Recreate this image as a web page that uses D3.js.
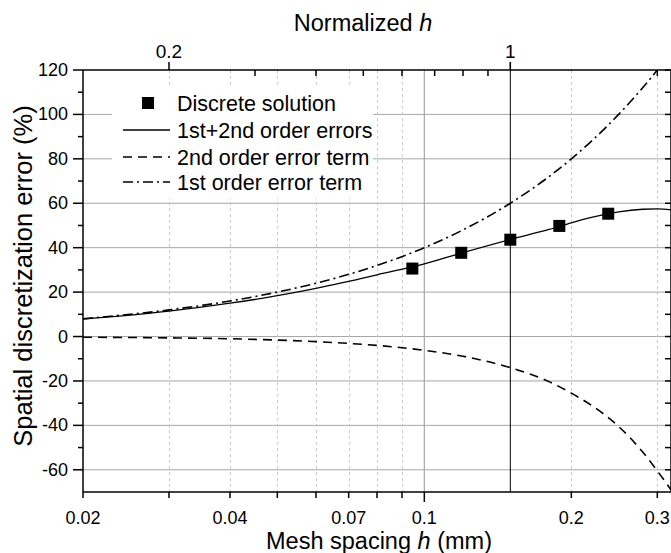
<!DOCTYPE html>
<html>
<head>
<meta charset="utf-8">
<script src="https://cdn.jsdelivr.net/npm/d3@7"></script>
<style>
  body { margin: 0; background: #fff; }
  text { font-family: "Liberation Sans", Arial, sans-serif; fill: #000; }
</style>
</head>
<body>
<div id="container"></div>
<script>
/* CONSTANTS AND GLOBALS */
const width = 671;
const height = 553;
const margin = { top: 70, right: 0, bottom: 61, left: 83 };
const hRef = 0.15; // mesh spacing used for "Normalized h" = 1

/* DATA */
const hValues = [0.02, 0.03, 0.04, 0.05, 0.06, 0.07, 0.08, 0.1, 0.12, 0.15, 0.18, 0.2, 0.22, 0.25, 0.28, 0.3, 0.32];
const combinedError = [7.8, 11.4, 15, 18.4, 21.7, 24.8, 27.8, 32.7, 37.8, 43.7, 48.2, 51.2, 53.6, 56.1, 57.3, 57.5, 57];
const secondOrder = [-0.3, -0.6, -1.0, -1.6, -2.3, -3.1, -4.0, -6.2, -8.9, -14, -20.3, -25.5, -31, -40.5, -52, -60.5, -69];
const firstOrder = [8, 12, 16, 20, 24, 28, 32, 40, 48, 60, 72, 80, 88, 100, 112, 120, 128];

const discreteH = [0.0945, 0.119, 0.15, 0.189, 0.238];
const discreteError = [30.6, 37.7, 43.6, 49.8, 55.3];

const bottomLabels = [0.02, 0.04, 0.07, 0.1, 0.2, 0.3];
const bottomMinor = [0.02, 0.03, 0.04, 0.05, 0.06, 0.07, 0.08, 0.09, 0.2, 0.3];
const bottomMajor = [0.1];
const dottedGrid = [0.03, 0.04, 0.05, 0.06, 0.07, 0.08, 0.09, 0.2, 0.3];

const topMajor = [0.2, 1];
const topMinor = [0.3, 0.4, 0.5, 0.6, 0.7, 0.8, 0.9, 2];

const yLabels = [120, 100, 80, 60, 40, 20, 0, -20, -40, -60];
const yMinor = [110, 90, 70, 50, 30, 10, -10, -30, -50];

const legendItems = ["Discrete solution", "1st+2nd order errors", "2nd order error term", "1st order error term"];

/* HTML ELEMENTS */
const svg = d3.select("#container")
  .append("svg")
  .attr("width", width)
  .attr("height", height);

/* SCALES */
const xScale = d3.scaleLog()
  .domain([0.02, 0.32])
  .range([margin.left, width - margin.right]);

const xNorm = d3.scaleLog()
  .domain([0.02 / hRef, 0.32 / hRef])
  .range([margin.left, width - margin.right]);

const yScale = d3.scaleLinear()
  .domain([-70, 120])
  .range([height - margin.bottom, margin.top]);

const x0 = margin.left, x1 = width - margin.right;
const y0 = yScale(120), y1 = yScale(-70);

/* GRID */
const grid = svg.append("g");
grid.selectAll(".hgrid")
  .data(yLabels.filter(d => d !== 120))
  .join("line")
  .attr("x1", x0).attr("x2", x1)
  .attr("y1", d => yScale(d)).attr("y2", d => yScale(d))
  .attr("stroke", "#a6a6a6").attr("stroke-width", 1);

grid.selectAll(".dgrid")
  .data(dottedGrid)
  .join("line")
  .attr("x1", d => Math.round(xScale(d)) + 0.5).attr("x2", d => Math.round(xScale(d)) + 0.5)
  .attr("y1", y0).attr("y2", y1)
  .attr("stroke", "#c8c8c8").attr("stroke-width", 1)
  .attr("stroke-dasharray", "3,3");

grid.append("line")
  .attr("x1", xScale(0.1)).attr("x2", xScale(0.1))
  .attr("y1", y0).attr("y2", y1)
  .attr("stroke", "#a6a6a6").attr("stroke-width", 1.2);

grid.append("line")
  .attr("x1", xNorm(1)).attr("x2", xNorm(1))
  .attr("y1", y0 - 8).attr("y2", y1)
  .attr("stroke", "#000").attr("stroke-width", 1);

/* LEGEND BACKGROUND (covers grid) */
svg.append("rect")
  .attr("x", 112).attr("y", 86)
  .attr("width", 261).attr("height", 112)
  .attr("fill", "#fff");

/* CURVES */
svg.append("clipPath").attr("id", "plot-clip")
  .append("rect")
  .attr("x", x0).attr("y", y0)
  .attr("width", x1 - x0).attr("height", y1 - y0);

const line = d3.line()
  .x(d => xScale(d[0]))
  .y(d => yScale(d[1]))
  .curve(d3.curveMonotoneX);

const curves = svg.append("g").attr("clip-path", "url(#plot-clip)");

curves.append("path")
  .datum(hValues.map((h, i) => [h, secondOrder[i]]))
  .attr("d", line)
  .attr("fill", "none").attr("stroke", "#000").attr("stroke-width", 1.6)
  .attr("stroke-dasharray", "9,6");

curves.append("path")
  .datum(hValues.map((h, i) => [h, firstOrder[i]]))
  .attr("d", line)
  .attr("fill", "none").attr("stroke", "#000").attr("stroke-width", 1.6)
  .attr("stroke-dasharray", "10,4,2,4");

curves.append("path")
  .datum(hValues.map((h, i) => [h, combinedError[i]]))
  .attr("d", line)
  .attr("fill", "none").attr("stroke", "#000").attr("stroke-width", 1.3);

// discrete solution squares
svg.selectAll(".pt")
  .data(discreteH.map((h, i) => [h, discreteError[i]]))
  .join("rect")
  .attr("x", d => xScale(d[0]) - 6)
  .attr("y", d => yScale(d[1]) - 6)
  .attr("width", 12).attr("height", 12)
  .attr("fill", "#000");

/* AXES FRAME */
const frame = svg.append("g").attr("stroke", "#000").attr("stroke-width", 1.5);
frame.append("line").attr("x1", x0).attr("x2", x1).attr("y1", y1).attr("y2", y1);
frame.append("line").attr("x1", x0).attr("x2", x1).attr("y1", y0).attr("y2", y0);
frame.append("line").attr("x1", x0).attr("x2", x0).attr("y1", y0).attr("y2", y1);
frame.append("line").attr("x1", x1).attr("x2", x1).attr("y1", y0).attr("y2", y1);

// bottom ticks
const ticks = svg.append("g").attr("stroke", "#000").attr("stroke-width", 1.5);
ticks.selectAll(".bmin").data(bottomMinor).join("line")
  .attr("x1", d => xScale(d)).attr("x2", d => xScale(d))
  .attr("y1", y1).attr("y2", y1 + 6);
ticks.selectAll(".bmaj").data(bottomMajor).join("line")
  .attr("x1", d => xScale(d)).attr("x2", d => xScale(d))
  .attr("y1", y1).attr("y2", y1 + 10);

// top ticks
ticks.selectAll(".tmin").data(topMinor).join("line")
  .attr("x1", d => xNorm(d)).attr("x2", d => xNorm(d))
  .attr("y1", y0).attr("y2", y0 + 6);
ticks.selectAll(".tmaj").data(topMajor).join("line")
  .attr("x1", d => xNorm(d)).attr("x2", d => xNorm(d))
  .attr("y1", y0).attr("y2", y0 - 8);

// left ticks
ticks.selectAll(".lmaj").data(yLabels).join("line")
  .attr("x1", x0 - 10).attr("x2", x0)
  .attr("y1", d => yScale(d)).attr("y2", d => yScale(d));
ticks.selectAll(".lmin").data(yMinor).join("line")
  .attr("x1", x0 - 5).attr("x2", x0)
  .attr("y1", d => yScale(d)).attr("y2", d => yScale(d));

// right ticks (inward)
ticks.selectAll(".rt").data(yLabels.concat(yMinor)).join("line")
  .attr("x1", x1 - 6).attr("x2", x1)
  .attr("y1", d => yScale(d)).attr("y2", d => yScale(d));

/* TICK LABELS */
svg.selectAll(".blab").data(bottomLabels).join("text")
  .attr("x", d => xScale(d))
  .attr("y", y1 + 32)
  .attr("text-anchor", "middle")
  .style("font-size", "18px")
  .text(d => d);

svg.selectAll(".tlab").data(topMajor).join("text")
  .attr("x", d => xNorm(d))
  .attr("y", y0 - 12)
  .attr("text-anchor", "middle")
  .style("font-size", "19px")
  .text(d => d);

svg.selectAll(".ylab").data(yLabels).join("text")
  .attr("x", x0 - 15)
  .attr("y", d => yScale(d) + 6)
  .attr("text-anchor", "end")
  .style("font-size", "18px")
  .text(d => d);

/* AXIS TITLES */
const bottomTitle = svg.append("text")
  .attr("x", 379).attr("y", 549)
  .attr("text-anchor", "middle")
  .style("font-size", "23.5px");
bottomTitle.append("tspan").text("Mesh spacing ");
bottomTitle.append("tspan").style("font-style", "italic").text("h");
bottomTitle.append("tspan").text(" (mm)");

const topTitle = svg.append("text")
  .attr("x", 363).attr("y", 31)
  .attr("text-anchor", "middle")
  .style("font-size", "23.5px");
topTitle.append("tspan").text("Normalized ");
topTitle.append("tspan").style("font-style", "italic").text("h");

svg.append("text")
  .attr("transform", `translate(32,276) rotate(-90)`)
  .attr("text-anchor", "middle")
  .style("font-size", "25.5px")
  .text("Spatial discretization error (%)");

/* LEGEND */
const legend = svg.append("g");
const rowY = [103, 130, 157, 182];
legend.append("rect")
  .attr("x", 142).attr("y", rowY[0] - 6)
  .attr("width", 12).attr("height", 12)
  .attr("fill", "#000");
const legendDash = [null, null, "9,6", "10,4,2,4"];
[1, 2, 3].forEach(i => {
  legend.append("line")
    .attr("x1", 123).attr("x2", 170)
    .attr("y1", rowY[i]).attr("y2", rowY[i])
    .attr("stroke", "#000")
    .attr("stroke-width", i === 1 ? 1.3 : 1.6)
    .attr("stroke-dasharray", legendDash[i]);
});
legend.selectAll(".ltext").data(legendItems).join("text")
  .attr("x", 177)
  .attr("y", (d, i) => rowY[i] + 8)
  .style("font-size", "21.5px")
  .text(d => d);
</script>
</body>
</html>
